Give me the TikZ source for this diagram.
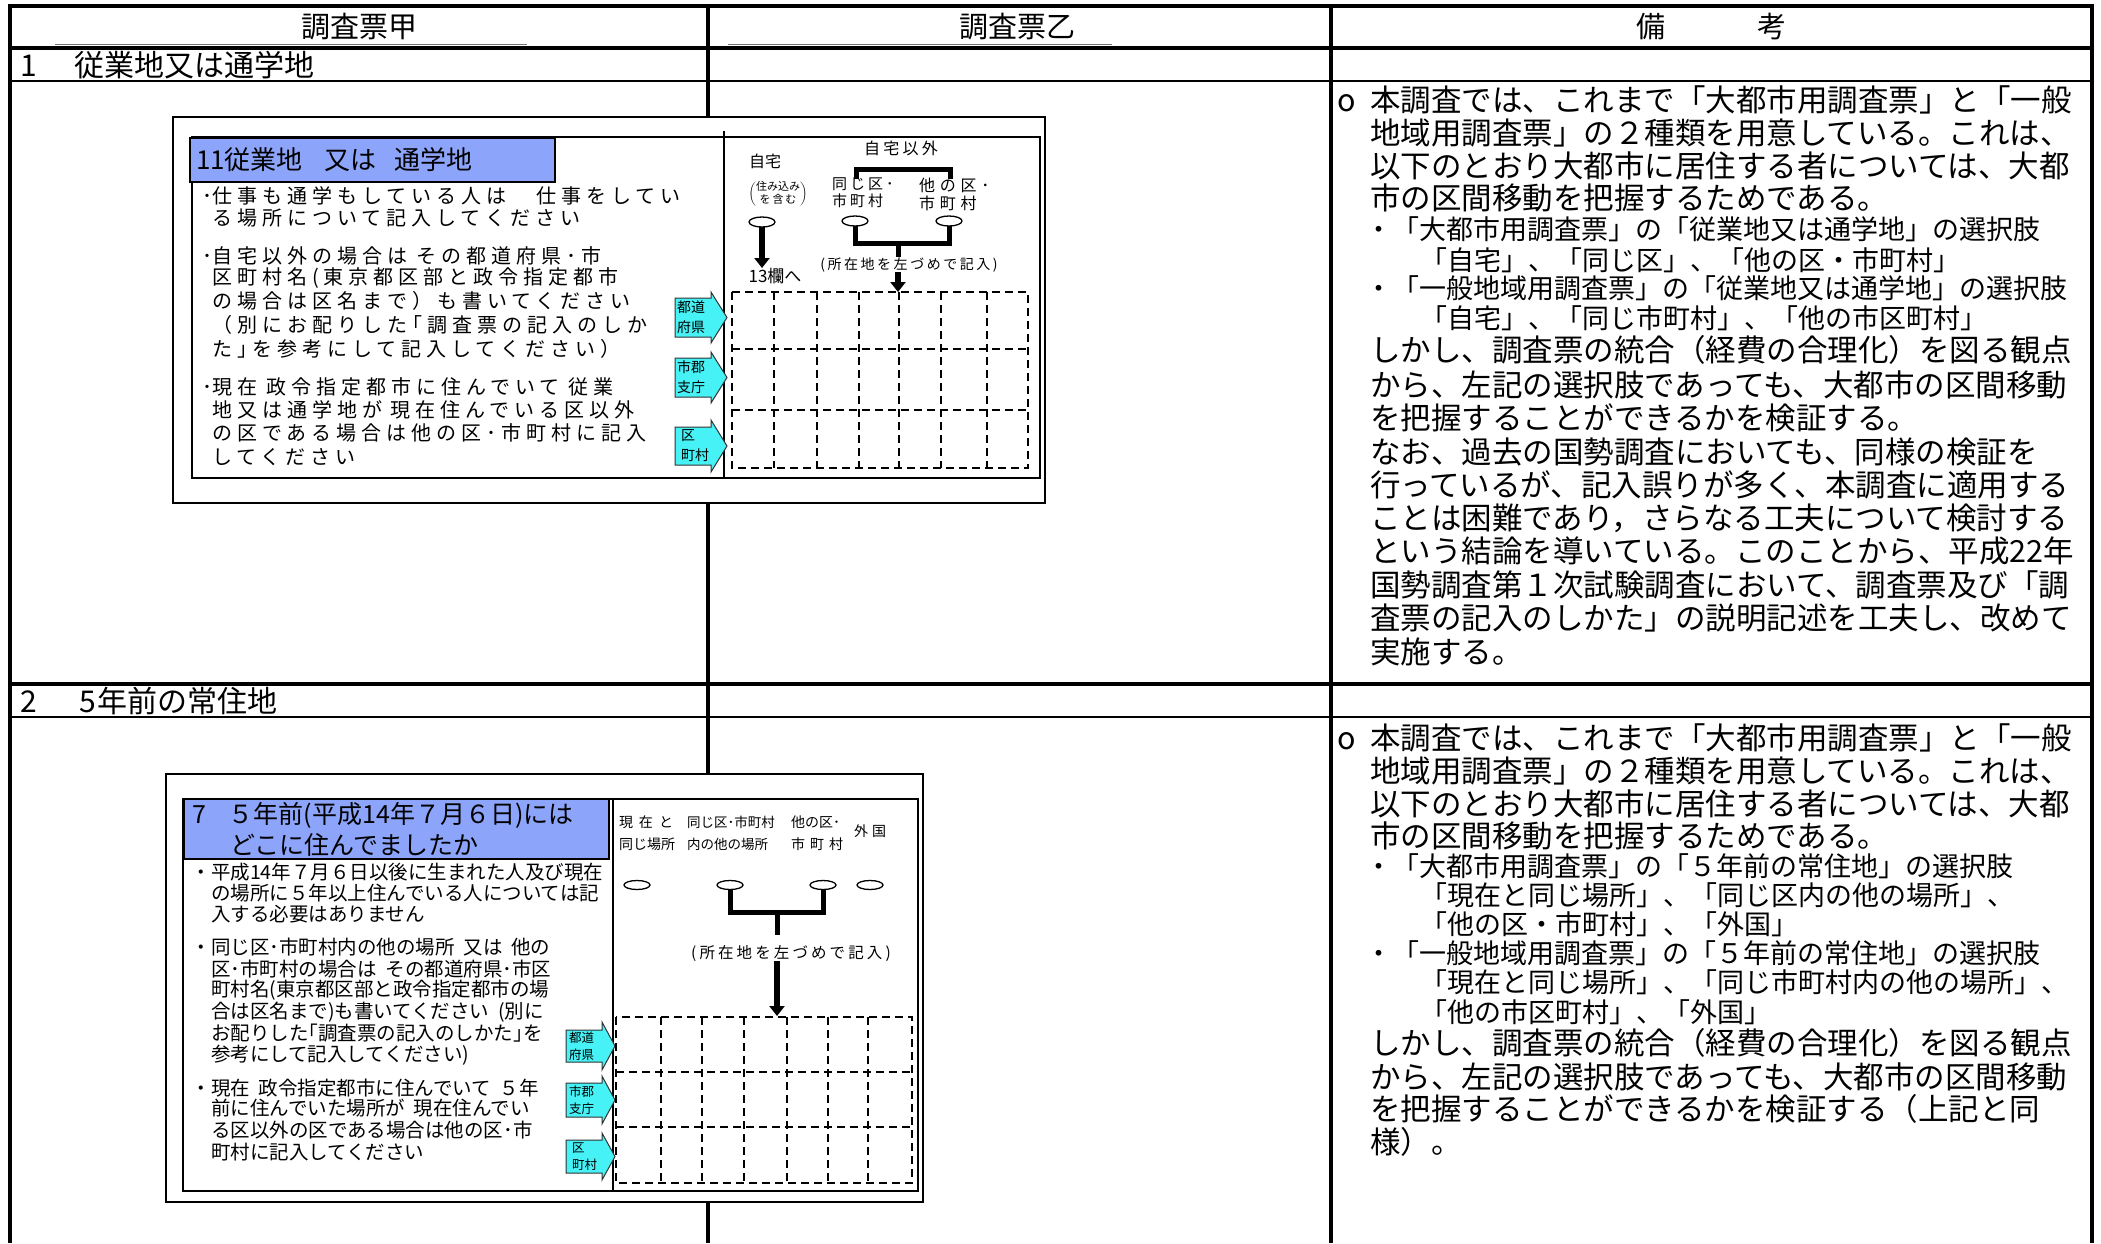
\documentclass[tikz,border=0pt]{standalone}
\usepackage{fontspec}
\setmainfont{Noto Sans CJK JP}
\usetikzlibrary{arrows.meta,shapes.geometric}
\definecolor{ttlblue}{RGB}{140,164,250}
\definecolor{cyfill}{RGB}{70,242,245}
\newcommand\hs{\hspace{0.45em}}
\newcommand\cyarr[6]{%
  \path[cyarrow] (#1,#4-#5) -- (#2,#4-#5) -- (#2,#4-#6) -- (#3,#4) -- (#2,#4+#6) -- (#2,#4+#5) -- (#1,#4+#5) -- cycle;}
\begin{document}
\begin{tikzpicture}[x=1pt,y=-1pt,
  every node/.style={inner sep=0pt,outer sep=0pt},
  tbl/.style={line width=3.2pt},
  tblthin/.style={line width=1.5pt},
  frm/.style={line width=1.8pt},
  ttlbox/.style={draw=black,line width=1.6pt,fill=ttlblue},
  oval/.style={ellipse,draw,line width=1.3pt,fill=white,minimum width=26pt,minimum height=10pt},
  brk/.style={line width=5pt},
  fatarr/.style={line width=6pt,-{Triangle[width=15pt,length=10pt]}},
  gridln/.style={line width=1.4pt,dash pattern=on 8pt off 5pt},
  cyarrow/.style={draw=black!80,line width=1pt,fill=cyfill},
  hdr/.style={font=\fontsize{29}{32}\selectfont},
  sec/.style={anchor=west,font=\fontsize{30}{33}\selectfont},
  rtxt/.style={anchor=west,font=\fontsize{30.5}{33}\selectfont},
  stxt/.style={anchor=west,font=\fontsize{27}{30}\selectfont},
  fa/.style={anchor=west,font=\fontsize{20}{21}\selectfont\addfontfeature{LetterSpace=25}},
  fb/.style={anchor=west,font=\fontsize{19.5}{21}\selectfont},
  lbl/.style={font=\fontsize{16}{18}\selectfont},
  artxt/.style={anchor=west,align=left,font=\fontsize{14}{20}\selectfont},
  artxtb/.style={anchor=west,align=left,font=\fontsize{12.5}{17}\selectfont},
]
\useasboundingbox (0,0) rectangle (2101,1243);
\fill[white] (0,0) rectangle (2101,1243);

% ---------------- table ----------------
\draw[tbl] (8.4,6) -- (2093.6,6);
\draw[tbl] (10,4.4) -- (10,1243);
\draw[tbl] (2092,4.4) -- (2092,1243);
\draw[tbl] (708,6) -- (708,1243);
\draw[tbl] (1331,6) -- (1331,1243);
\draw[tbl] (10,48) -- (2092,48);
\draw[tblthin] (10,81) -- (2092,81);
\draw[tbl] (10,684) -- (2092,684);
\draw[tblthin] (10,717) -- (2092,717);
\draw[line width=1.5pt,black!55] (55,44.3) -- (527,44.3);
\draw[line width=1.5pt,black!55] (728,44.3) -- (1112,44.3);

\node[hdr] (h1) at (359,27) {調査票甲};
\node[hdr] (h2) at (1017,27) {調査票乙};
\node[hdr] (h3) at (1711,27) {備\hspace{92pt}考};
\node[sec] (s1) at (20,65) {1\hspace{38pt}従業地又は通学地};
\node[sec] (s2) at (20,701) {2\hspace{43pt}5\hspace{1pt}年前の常住地};

% ---------------- right column, block 1 ----------------
\node[rtxt] (r1) at (1370,100) {\llap{o\hspace{14pt}}本調査では、これまで「大都市用調査票」と「一般};
\node[rtxt] (r2) at (1370,133) {地域用調査票」の２種類を用意している。これは、};
\node[rtxt] (r3) at (1370,166) {以下のとおり大都市に居住する者については、大都};
\node[rtxt] (r4) at (1370,198) {市の区間移動を把握するためである。};
\node[stxt] (r5) at (1365,229) {・「大都市用調査票」の「従業地又は通学地」の選択肢};
\node[stxt] (r6) at (1420,260) {「自宅」、「同じ区」、「他の区・市町村」};
\node[stxt] (r7) at (1365,288) {・「一般地域用調査票」の「従業地又は通学地」の選択肢};
\node[stxt] (r8) at (1420,318) {「自宅」、「同じ市町村」、「他の市区町村」};
\node[rtxt] (r9) at (1370,350) {しかし、調査票の統合（経費の合理化）を図る観点};
\node[rtxt] (r10) at (1370,385) {から、左記の選択肢であっても、大都市の区間移動};
\node[rtxt] (r11) at (1370,418) {を把握することができるかを検証する。};
\node[rtxt] (r12) at (1370,452) {なお、過去の国勢調査においても、同様の検証を};
\node[rtxt] (r13) at (1370,485) {行っているが、記入誤りが多く、本調査に適用する};
\node[rtxt] (r14) at (1370,518) {ことは困難であり，さらなる工夫について検討する};
\node[rtxt] (r15) at (1370,551) {という結論を導いている。このことから、平成22年};
\node[rtxt] (r16) at (1370,585) {国勢調査第１次試験調査において、調査票及び「調};
\node[rtxt] (r17) at (1370,618) {査票の記入のしかた」の説明記述を工夫し、改めて};
\node[rtxt] (r18) at (1370,652) {実施する。};

% ---------------- right column, block 2 ----------------
\node[rtxt] (q1) at (1370,738) {\llap{o\hspace{14pt}}本調査では、これまで「大都市用調査票」と「一般};
\node[rtxt] (q2) at (1370,771) {地域用調査票」の２種類を用意している。これは、};
\node[rtxt] (q3) at (1370,804) {以下のとおり大都市に居住する者については、大都};
\node[rtxt] (q4) at (1370,836) {市の区間移動を把握するためである。};
\node[stxt] (q5) at (1365,866) {・「大都市用調査票」の「５年前の常住地」の選択肢};
\node[stxt] (q6) at (1420,895) {「現在と同じ場所」、「同じ区内の他の場所」、};
\node[stxt] (q7) at (1420,924) {「他の区・市町村」、「外国」};
\node[stxt] (q8) at (1365,953) {・「一般地域用調査票」の「５年前の常住地」の選択肢};
\node[stxt] (q9) at (1420,982) {「現在と同じ場所」、「同じ市町村内の他の場所」、};
\node[stxt] (q10) at (1420,1012) {「他の市区町村」、「外国」};
\node[rtxt] (q11) at (1370,1043) {しかし、調査票の統合（経費の合理化）を図る観点};
\node[rtxt] (q12) at (1370,1077) {から、左記の選択肢であっても、大都市の区間移動};
\node[rtxt] (q13) at (1370,1109) {を把握することができるかを検証する（上記と同};
\node[rtxt] (q14) at (1370,1142) {様）。};

% ================= row 1 form image =================
\draw[frm,fill=white] (173,117) rectangle (1045,503);
\draw[frm] (192,137) rectangle (1040,478);
\draw[frm] (724,131) -- (724,477);
\draw[ttlbox] (190,138) rectangle (555,182);
\node[anchor=west,font=\fontsize{26}{28}\selectfont] (t1) at (196,160) {11従業地\hspace{22pt}又は\hspace{18pt}通学地};

\node[fa] (a1) at (212,196) {\llap{･}仕事も通学もしている人は　仕事をしてい};
\node[fa] (a2) at (212,218) {る場所について記入してください};
\node[fa] (a3) at (212,256) {\llap{･}自宅以外の場合は\hs その都道府県･市};
\node[fa] (a4) at (212,278) {区町村名(東京都区部と政令指定都市};
\node[fa] (a5) at (212,301) {の場合は区名まで）も書いてください};
\node[fa] (a6) at (212,325) {（別にお配りした｢調査票の記入のしか};
\node[fa] (a7) at (212,349) {た｣を参考にして記入してください）};
\node[fa] (a8) at (212,387) {\llap{･}現在\hs 政令指定都市に住んでいて\hs 従業};
\node[fa] (a9) at (212,410) {地又は通学地が\hs 現在住んでいる区以外};
\node[fa] (a10) at (212,433) {の区である場合は他の区･市町村に記入};
\node[fa] (a11) at (212,457) {してください};

\cyarr{675}{711}{727}{317.5}{19.5}{25.5}
\cyarr{675}{711}{727}{377.5}{19.5}{25.5}
\cyarr{675}{711}{727}{446}{19}{26}
\node[artxt] (k1) at (677,317.5) {都道\\府県};
\node[artxt] (k2) at (677,377.5) {市郡\\支庁};
\node[artxt] (k3) at (681,446) {区\\町村};

\node[lbl] (l1) at (765,161) {自宅};
\node[font=\fontsize{11}{12}\selectfont] (l2) at (778,194) {\renewcommand\arraystretch{0.85}$\left(\begin{tabular}{@{}c@{}}住み込み\\を\,含\,む\end{tabular}\right)$};
\node[lbl,font=\fontsize{16}{18}\selectfont\addfontfeature{LetterSpace=20}] (l3) at (901,148) {自宅以外};
\node[anchor=north west,align=left,font=\fontsize{15}{17}\selectfont\addfontfeature{LetterSpace=20}] (l4) at (832,178) {同じ区･\\市町村};
\node[anchor=north west,align=left,font=\fontsize{16}{18}\selectfont\addfontfeature{LetterSpace=30}] (l5) at (919,178) {他の区･\\市町村};
\draw[brk] (856,179) -- (856,169) -- (950,169) -- (950,179);

\node[oval] (e1) at (762,222) {};
\node[oval] (e2) at (855,221) {};
\node[oval] (e3) at (949,221) {};
\coordinate (e1tip) at (762,268);
\draw[fatarr] (e1.south) -- (e1tip);
\node[font=\fontsize{17}{19}\selectfont] (l6) at (775,276) {13欄へ};

\coordinate (b1) at (898,243);
\coordinate (b1s) at (898,257);
\draw[brk] (e2.south) |- (b1) -| (e3.south);
\draw[brk] (b1) -- (b1s);
\node[font=\fontsize{14}{16}\selectfont\addfontfeature{LetterSpace=18}] (loc1) at (909,265) {(所在地を左づめで記入)};
\coordinate (g1top) at (898,292);
\draw[fatarr] (b1 |- loc1.south) -- (g1top);

\draw[gridln] (732,292) rectangle (1028,468);
\foreach \gx in {774,817,859,899,941,987} \draw[gridln] (\gx,292) -- (\gx,468);
\foreach \gy in {349,410} \draw[gridln] (732,\gy) -- (1028,\gy);

% ================= row 2 form image =================
\draw[frm,fill=white] (166,774) rectangle (923,1202);
\draw[frm] (183,799) rectangle (918,1191);
\draw[frm] (613,799) -- (613,1191);
\draw[ttlbox] (184,799) rectangle (609,859);
\node[anchor=west,font=\fontsize{25}{27}\selectfont] (t2a) at (192,815) {7\hspace{23pt}５年前(平成14年７月６日)には};
\node[anchor=west,font=\fontsize{25}{27}\selectfont] (t2b) at (230,845) {どこに住んでましたか};

\node[fb] (c1) at (211,872) {\llap{・}平成14年７月６日以後に生まれた人及び現在};
\node[fb] (c2) at (211,893) {の場所に５年以上住んでいる人については記};
\node[fb] (c3) at (211,914) {入する必要はありません};
\node[fb] (c4) at (211,947) {\llap{・}同じ区･市町村内の他の場所\hs 又は\hs 他の};
\node[fb] (c5) at (211,969) {区･市町村の場合は\hs その都道府県･市区};
\node[fb] (c6) at (211,990) {町村名(東京都区部と政令指定都市の場};
\node[fb] (c7) at (211,1012) {合は区名まで)も書いてください\hs (別に};
\node[fb] (c8) at (211,1033) {お配りした｢調査票の記入のしかた｣を};
\node[fb] (c9) at (211,1055) {参考にして記入してください)};
\node[fb] (c10) at (211,1088) {\llap{・}現在\hs 政令指定都市に住んでいて\hs ５年};
\node[fb] (c11) at (211,1108) {前に住んでいた場所が\hs 現在住んでい};
\node[fb] (c12) at (211,1130) {る区以外の区である場合は他の区･市};
\node[fb] (c13) at (211,1152) {町村に記入してください};

\cyarr{566}{602}{615}{1046}{16}{24}
\cyarr{566}{602}{615}{1100}{17}{24}
\cyarr{566}{602}{615}{1156.5}{16.5}{23.5}
\node[artxtb] (m1) at (569,1046) {都道\\府県};
\node[artxtb] (m2) at (569,1100) {市郡\\支庁};
\node[artxtb] (m3) at (572,1156.5) {区\\町村};

\node[anchor=north west,align=left,font=\fontsize{14}{22}\selectfont] (n1) at (619,816) {現\hspace{6pt}在\hspace{6pt}と\\同じ場所};
\node[anchor=north west,align=left,font=\fontsize{13.5}{22}\selectfont] (n2) at (687,816) {同じ区･市町村\\内の他の場所};
\node[anchor=north west,align=left,font=\fontsize{14}{22}\selectfont] (n3) at (791,816) {他の区･\\市\hspace{5pt}町\hspace{5pt}村};
\node[font=\fontsize{14}{16}\selectfont] (n4) at (870,831) {外\hspace{4pt}国};

\node[oval,minimum height=9pt] (f1) at (637,885) {};
\node[oval,minimum height=9pt] (f2) at (730,885) {};
\node[oval,minimum height=9pt] (f3) at (823,885) {};
\node[oval,minimum height=9pt] (f4) at (870,885) {};

\coordinate (b2) at (777,912);
\coordinate (b2s) at (777,935);
\draw[brk] (f2.south) |- (b2) -| (f3.south);
\draw[brk] (b2) -- (b2s);
\node[font=\fontsize{15.5}{17}\selectfont\addfontfeature{LetterSpace=20}] (loc2) at (791,953) {(所在地を左づめで記入)};
\coordinate (g2top) at (777,1016);
\draw[fatarr] (b2 |- loc2.south) -- (g2top);

\draw[gridln] (616,1017) rectangle (912,1183);
\foreach \gx in {661,702,744,787,828,868} \draw[gridln] (\gx,1017) -- (\gx,1183);
\foreach \gy in {1072,1127} \draw[gridln] (616,\gy) -- (912,\gy);
\end{tikzpicture}
\end{document}
